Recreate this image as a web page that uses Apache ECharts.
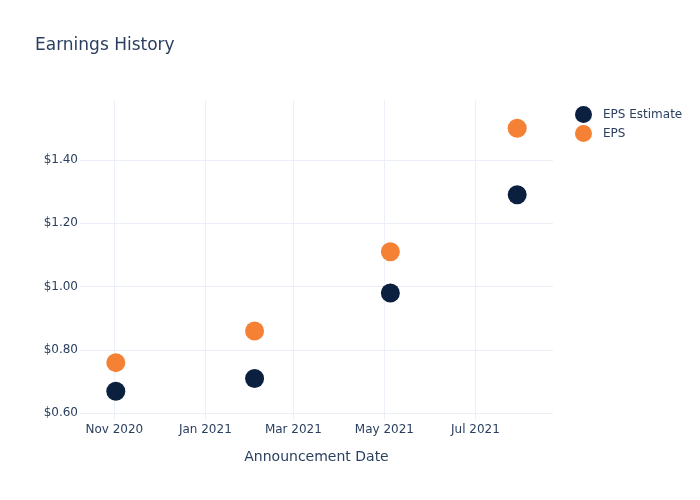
<!DOCTYPE html>
<html>
<head>
<meta charset="utf-8">
<script src="https://cdn.jsdelivr.net/npm/echarts@6/dist/echarts.min.js"></script>
<style>html,body{margin:0;padding:0;background:#fff}#c{width:700px;height:500px}</style>
</head>
<body>
<div id="c"></div>
<script>
const dates = ['2020-11-02', '2021-02-03', '2021-05-05', '2021-07-29'];
const epsEstimate = [0.67, 0.71, 0.98, 1.29];
const eps = [0.76, 0.86, 1.11, 1.50];
const xTicks = ['2020-11-01', '2021-01-01', '2021-03-01', '2021-05-01', '2021-07-01'];
const yTicks = [0.6, 0.8, 1.0, 1.2, 1.4];
const xRange = ['2020-10-09', '2021-08-22'];
const yRange = [0.579, 1.589];

const MONTHS = ['Jan','Feb','Mar','Apr','May','Jun','Jul','Aug','Sep','Oct','Nov','Dec'];
function ts(s) { const p = s.split('-').map(Number); return Date.UTC(p[0], p[1] - 1, p[2]); }

const TXT = '#2a3f5f';
const FONT = 'DejaVu Sans';
const chart = echarts.init(document.getElementById('c'), null, {renderer: 'canvas'});
chart.setOption({
  animation: false,
  backgroundColor: '#fff',
  textStyle: {fontFamily: FONT, color: TXT},
  title: {
    text: 'Earnings History', left: 30, top: 32,
    textStyle: {fontFamily: FONT, fontSize: 17, fontWeight: 'normal', color: TXT}
  },
  legend: {
    orient: 'vertical', left: 570, top: 101, itemWidth: 17, itemHeight: 17, itemGap: 2,
    icon: 'circle', textStyle: {fontFamily: FONT, fontSize: 12, color: TXT, padding: [0, 0, 0, 6]},
    data: ['EPS Estimate', 'EPS']
  },
  grid: {left: 80, right: 147, top: 100, bottom: 80, containLabel: false},
  xAxis: {
    type: 'value', min: ts(xRange[0]), max: ts(xRange[1]),
    name: 'Announcement Date', nameLocation: 'middle', nameGap: 30,
    nameTextStyle: {fontFamily: FONT, fontSize: 14, color: TXT},
    axisLine: {show: false}, axisTick: {show: false, customValues: xTicks.map(ts)},
    axisLabel: {
      customValues: xTicks.map(ts), margin: 4, fontFamily: FONT, fontSize: 12, color: TXT,
      formatter: function (v) { const d = new Date(v); return MONTHS[d.getUTCMonth()] + ' ' + d.getUTCFullYear(); }
    },
    splitLine: {show: true, lineStyle: {color: '#ebf0f8', width: 1}}
  },
  yAxis: {
    type: 'value', min: yRange[0], max: yRange[1],
    axisLine: {show: false}, axisTick: {show: false, customValues: yTicks},
    axisLabel: {
      customValues: yTicks, margin: 2, fontFamily: FONT, fontSize: 12, color: TXT,
      padding: [3, 0, 0, 0],
      formatter: function (v) { return '$' + v.toFixed(2); }
    },
    splitLine: {show: true, lineStyle: {color: '#ebf0f8', width: 1}}
  },
  series: [
    {name: 'EPS Estimate', type: 'scatter', symbolSize: 19, itemStyle: {color: '#0b1f3f', opacity: 1},
     data: dates.map((d, i) => [ts(d), epsEstimate[i]])},
    {name: 'EPS', type: 'scatter', symbolSize: 19, itemStyle: {color: '#f58134', opacity: 1},
     data: dates.map((d, i) => [ts(d), eps[i]])}
  ]
});
</script>
</body>
</html>
